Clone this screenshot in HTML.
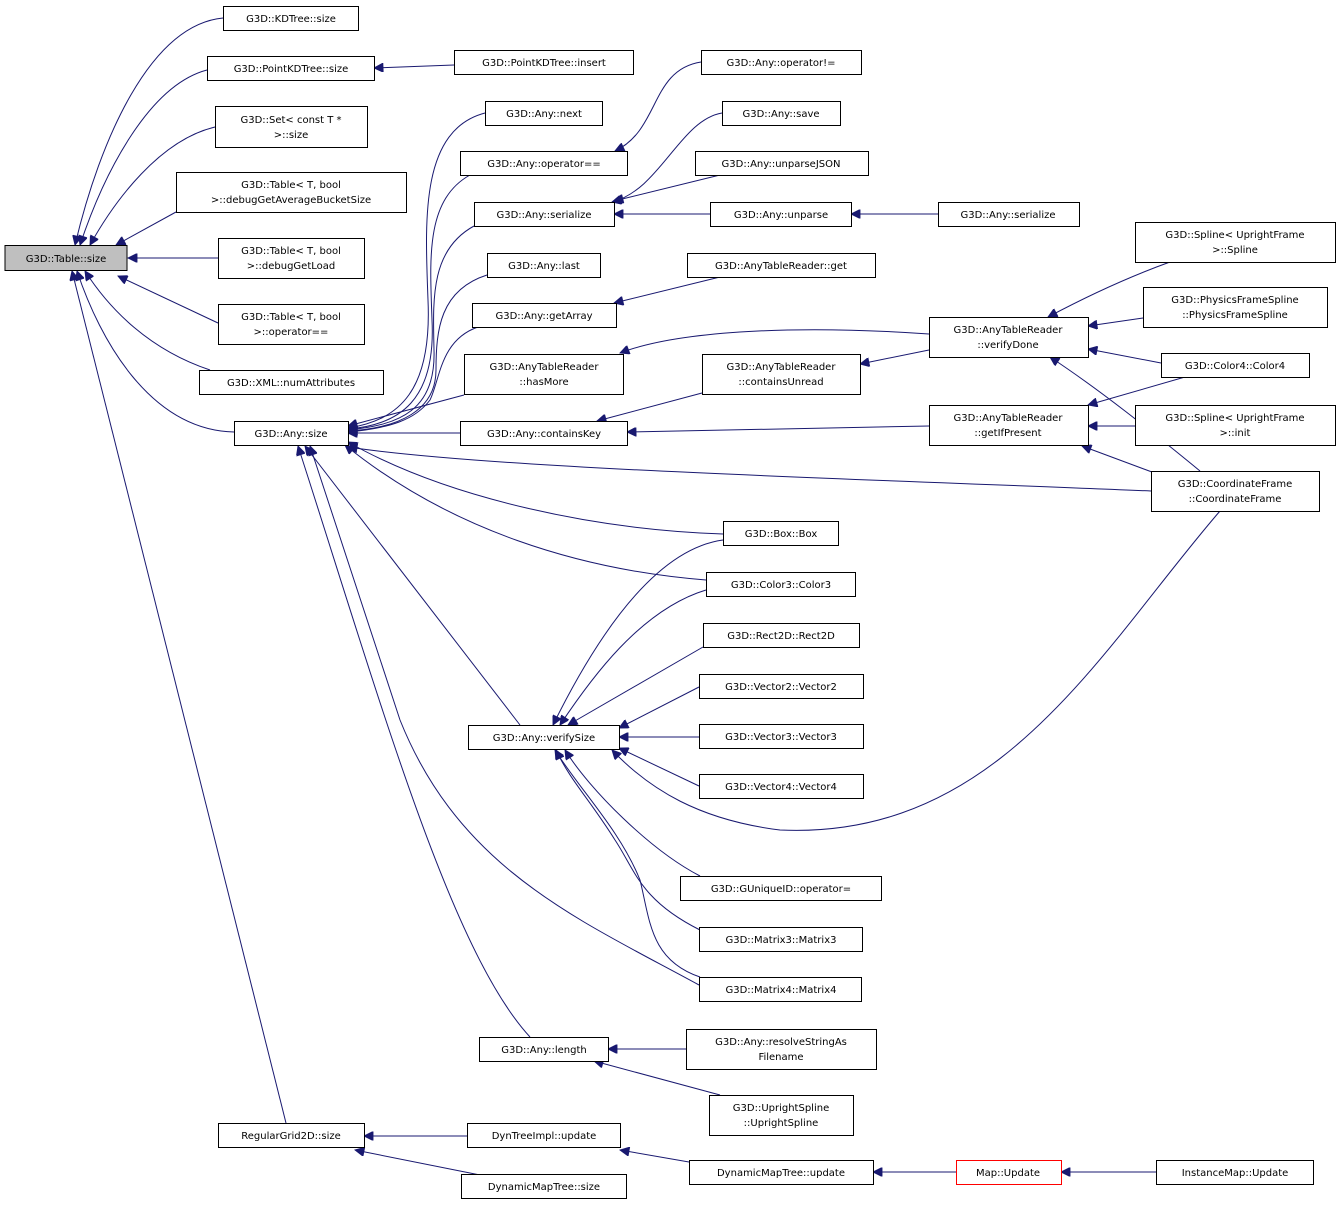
<!DOCTYPE html>
<html><head><meta charset="utf-8"><style>
html,body{margin:0;padding:0;background:#fff;}
svg text{font-family:"DejaVu Sans","Liberation Sans",sans-serif;font-size:10px;fill:#000;text-anchor:middle;}
.b{fill:#fff;stroke:#000;stroke-width:1;}
.e{fill:none;stroke:#191970;stroke-width:1;}
</style></head><body>
<svg width="1340" height="1205" viewBox="0 0 1340 1205" xmlns="http://www.w3.org/2000/svg">
<defs><marker id="a" viewBox="0 0 10 10" refX="10" refY="5" markerWidth="12" markerHeight="9" markerUnits="userSpaceOnUse" orient="auto"><path d="M0,0 L10,5 L0,10 z" fill="#191970" stroke="#191970"/></marker></defs>
<g class="e" marker-end="url(#a)">
<path d="M223,18 C150,25 100,140 75,245"/>
<path d="M207,70 C150,85 105,170 80,245"/>
<path d="M215,127 C160,140 115,200 90,245"/>
<path d="M176,212 L116,245"/>
<path d="M218,258 L128,258"/>
<path d="M218,323 L118,276"/>
<path d="M210,370 C150,350 110,310 85,271"/>
<path d="M234,432 C150,430 100,340 77,271"/>
<path d="M286,1123 L72,271"/>
<path d="M454,65 L374,68"/>
<path d="M485,113 C420,130 425,220 428,300 C432,390 400,420 348,428"/>
<path d="M470,175 C425,200 430,260 432,320 C436,400 400,425 348,429"/>
<path d="M474,226 C430,250 433,300 434,350 C436,410 400,425 348,430"/>
<path d="M487,275 C440,290 436,330 436,370 C436,410 400,428 348,431"/>
<path d="M478,327 C440,340 440,380 430,400 C415,420 390,428 348,432"/>
<path d="M464,395 L348,426"/>
<path d="M460,433 L348,433"/>
<path d="M1151,491 C900,480 500,470 348,447"/>
<path d="M723,534 C600,530 450,500 348,442"/>
<path d="M706,580 C580,570 450,530 345,445"/>
<path d="M520,725 L305,446"/>
<path d="M699,985 C580,920 460,870 400,720 L310,446"/>
<path d="M530,1037 C450,950 380,700 298,446"/>
<path d="M701,62 C650,70 660,130 615,151"/>
<path d="M722,113 C680,120 660,190 612,202"/>
<path d="M720,175 L614,201"/>
<path d="M710,214 L614,214"/>
<path d="M938,214 L851,214"/>
<path d="M720,277 L614,303"/>
<path d="M929,334 C800,325 680,330 620,353"/>
<path d="M702,393 L597,421"/>
<path d="M929,426 L627,432"/>
<path d="M929,350 L860,364"/>
<path d="M1170,262 C1120,280 1080,300 1048,317"/>
<path d="M1143,318 L1088,326"/>
<path d="M1161,363 L1088,349"/>
<path d="M1200,471 C1150,430 1100,390 1050,357"/>
<path d="M1185,377 L1088,405"/>
<path d="M1135,426 L1088,426"/>
<path d="M1160,475 L1082,446"/>
<path d="M723,540 C650,550 590,650 553,725"/>
<path d="M706,590 C640,610 590,680 560,725"/>
<path d="M703,647 L568,725"/>
<path d="M699,687 L619,728"/>
<path d="M699,737 L619,737"/>
<path d="M699,786 L619,748"/>
<path d="M1220,511 C1100,650 1000,840 780,830 C700,820 650,790 612,750"/>
<path d="M700,876 C650,850 590,790 565,750"/>
<path d="M700,930 C640,900 635,870 615,840 C590,800 570,780 556,750"/>
<path d="M700,977 C650,960 650,920 640,880 C620,830 580,790 555,750"/>
<path d="M686,1049 L608,1049"/>
<path d="M720,1095 L594,1061"/>
<path d="M467,1136 L364,1136"/>
<path d="M480,1175 L355,1150"/>
<path d="M689,1162 L620,1150"/>
<path d="M956,1172 L873,1172"/>
<path d="M1156,1172 L1061,1172"/>
</g>
<g>
<rect x="5" y="245.5" width="122" height="25" fill="#bfbfbf" stroke="#000"/><text x="66" y="262">G3D::Table::size</text>
<rect class="b" x="223.5" y="6.5" width="135" height="24"/><text x="291" y="22">G3D::KDTree::size</text>
<rect class="b" x="207.5" y="56.5" width="167" height="24"/><text x="291" y="72">G3D::PointKDTree::size</text>
<rect class="b" x="454.5" y="50.5" width="179" height="24"/><text x="544" y="66">G3D::PointKDTree::insert</text>
<rect class="b" x="215.5" y="106.5" width="152" height="41"/><text x="291" y="123">G3D::Set&lt; const T *</text><text x="291" y="138">&gt;::size</text>
<rect class="b" x="176.5" y="172.5" width="230" height="40"/><text x="291" y="188">G3D::Table&lt; T, bool</text><text x="291" y="203">&gt;::debugGetAverageBucketSize</text>
<rect class="b" x="218.5" y="238.5" width="146" height="40"/><text x="291" y="254">G3D::Table&lt; T, bool</text><text x="291" y="269">&gt;::debugGetLoad</text>
<rect class="b" x="218.5" y="304.5" width="146" height="40"/><text x="291" y="320">G3D::Table&lt; T, bool</text><text x="291" y="335">&gt;::operator==</text>
<rect class="b" x="199.5" y="370.5" width="184" height="24"/><text x="291" y="386">G3D::XML::numAttributes</text>
<rect class="b" x="234.5" y="421.5" width="114" height="24"/><text x="291" y="437">G3D::Any::size</text>
<rect class="b" x="218.5" y="1123.5" width="146" height="24"/><text x="291" y="1139">RegularGrid2D::size</text>
<rect class="b" x="485.5" y="101.5" width="117" height="24"/><text x="544" y="117">G3D::Any::next</text>
<rect class="b" x="460.5" y="151.5" width="167" height="24"/><text x="544" y="167">G3D::Any::operator==</text>
<rect class="b" x="474.5" y="202.5" width="140" height="24"/><text x="544" y="218">G3D::Any::serialize</text>
<rect class="b" x="487.5" y="253.5" width="113" height="24"/><text x="544" y="269">G3D::Any::last</text>
<rect class="b" x="472.5" y="303.5" width="144" height="24"/><text x="544" y="319">G3D::Any::getArray</text>
<rect class="b" x="464.5" y="354.5" width="159" height="40"/><text x="544" y="370">G3D::AnyTableReader</text><text x="544" y="385">::hasMore</text>
<rect class="b" x="460.5" y="421.5" width="167" height="24"/><text x="544" y="437">G3D::Any::containsKey</text>
<rect class="b" x="468.5" y="725.5" width="151" height="24"/><text x="544" y="741">G3D::Any::verifySize</text>
<rect class="b" x="479.5" y="1037.5" width="129" height="24"/><text x="544" y="1053">G3D::Any::length</text>
<rect class="b" x="467.5" y="1123.5" width="153" height="24"/><text x="544" y="1139">DynTreeImpl::update</text>
<rect class="b" x="461.5" y="1174.5" width="165" height="24"/><text x="544" y="1190">DynamicMapTree::size</text>
<rect class="b" x="701.5" y="50.5" width="160" height="24"/><text x="781" y="66">G3D::Any::operator!=</text>
<rect class="b" x="722.5" y="101.5" width="118" height="24"/><text x="781" y="117">G3D::Any::save</text>
<rect class="b" x="695.5" y="151.5" width="173" height="24"/><text x="781" y="167">G3D::Any::unparseJSON</text>
<rect class="b" x="710.5" y="202.5" width="141" height="24"/><text x="781" y="218">G3D::Any::unparse</text>
<rect class="b" x="938.5" y="202.5" width="141" height="24"/><text x="1008" y="218">G3D::Any::serialize</text>
<rect class="b" x="687.5" y="253.5" width="188" height="24"/><text x="781" y="269">G3D::AnyTableReader::get</text>
<rect class="b" x="702.5" y="354.5" width="158" height="40"/><text x="781" y="370">G3D::AnyTableReader</text><text x="781" y="385">::containsUnread</text>
<rect class="b" x="929.5" y="317.5" width="159" height="40"/><text x="1008" y="333">G3D::AnyTableReader</text><text x="1008" y="348">::verifyDone</text>
<rect class="b" x="929.5" y="405.5" width="159" height="40"/><text x="1008" y="421">G3D::AnyTableReader</text><text x="1008" y="436">::getIfPresent</text>
<rect class="b" x="1135.5" y="222.5" width="200" height="40"/><text x="1235" y="238">G3D::Spline&lt; UprightFrame</text><text x="1235" y="253">&gt;::Spline</text>
<rect class="b" x="1143.5" y="287.5" width="184" height="40"/><text x="1235" y="303">G3D::PhysicsFrameSpline</text><text x="1235" y="318">::PhysicsFrameSpline</text>
<rect class="b" x="1161.5" y="353.5" width="148" height="24"/><text x="1235" y="369">G3D::Color4::Color4</text>
<rect class="b" x="1135.5" y="405.5" width="200" height="40"/><text x="1235" y="421">G3D::Spline&lt; UprightFrame</text><text x="1235" y="436">&gt;::init</text>
<rect class="b" x="1151.5" y="471.5" width="168" height="40"/><text x="1235" y="487">G3D::CoordinateFrame</text><text x="1235" y="502">::CoordinateFrame</text>
<rect class="b" x="723.5" y="521.5" width="115" height="24"/><text x="781" y="537">G3D::Box::Box</text>
<rect class="b" x="706.5" y="572.5" width="149" height="24"/><text x="781" y="588">G3D::Color3::Color3</text>
<rect class="b" x="703.5" y="623.5" width="156" height="24"/><text x="781" y="639">G3D::Rect2D::Rect2D</text>
<rect class="b" x="699.5" y="674.5" width="164" height="24"/><text x="781" y="690">G3D::Vector2::Vector2</text>
<rect class="b" x="699.5" y="724.5" width="164" height="24"/><text x="781" y="740">G3D::Vector3::Vector3</text>
<rect class="b" x="699.5" y="774.5" width="164" height="24"/><text x="781" y="790">G3D::Vector4::Vector4</text>
<rect class="b" x="680.5" y="876.5" width="201" height="24"/><text x="781" y="892">G3D::GUniqueID::operator=</text>
<rect class="b" x="699.5" y="927.5" width="163" height="24"/><text x="781" y="943">G3D::Matrix3::Matrix3</text>
<rect class="b" x="699.5" y="977.5" width="162" height="24"/><text x="781" y="993">G3D::Matrix4::Matrix4</text>
<rect class="b" x="686.5" y="1029.5" width="190" height="40"/><text x="781" y="1045">G3D::Any::resolveStringAs</text><text x="781" y="1060">Filename</text>
<rect class="b" x="709.5" y="1095.5" width="144" height="40"/><text x="781" y="1111">G3D::UprightSpline</text><text x="781" y="1126">::UprightSpline</text>
<rect class="b" x="689.5" y="1160.5" width="184" height="24"/><text x="781" y="1176">DynamicMapTree::update</text>
<rect x="956.5" y="1160.5" width="105" height="24" fill="#fff" stroke="#ff0000"/><text x="1008" y="1176">Map::Update</text>
<rect class="b" x="1156.5" y="1160.5" width="157" height="24"/><text x="1235" y="1176">InstanceMap::Update</text>
</g>
</svg>
</body></html>
